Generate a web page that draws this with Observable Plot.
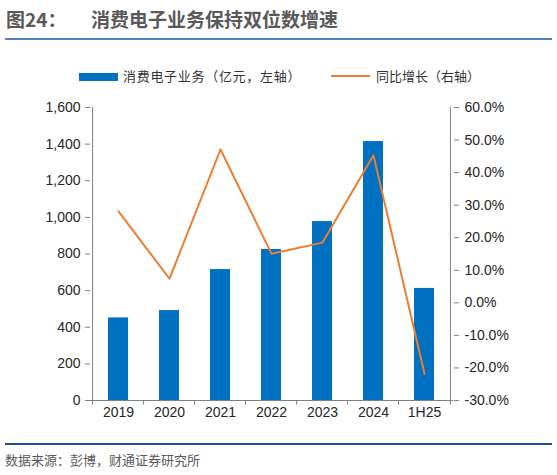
<!DOCTYPE html>
<html lang="zh">
<head>
<meta charset="UTF-8">
<title>图24</title>
<script src="https://cdn.jsdelivr.net/npm/d3@7"></script>
<script src="https://cdn.jsdelivr.net/npm/@observablehq/plot@0.6"></script>
<style>
  body { margin: 0; background: #fff; }
  #chart {
    position: relative;
    width: 557px;
    height: 475px;
    overflow: hidden;
    font-family: "Noto Sans CJK SC", sans-serif;
  }
  #title {
    position: absolute; left: 6px; top: 5px;
    font-size: 19px; font-weight: bold; color: #595959; white-space: nowrap;
  }
  #title .main { position: absolute; left: 85px; top: 0; }
  .rule { position: absolute; left: 5px; width: 547px; height: 2px; }
  #legend { position: absolute; top: 67px; left: 0; font-size: 13px; color: #333; }
  .item { position: absolute; white-space: nowrap; line-height: 18px; }
  .item span { position: absolute; }
  #source { position: absolute; left: 5px; top: 450px; font-size: 13px; color: #595959; white-space: nowrap; }
  #myplot { position: absolute; left: 0; top: 90px; }
</style>
</head>
<body>
<div id="chart">
  <div id="title">图24：<span class="main">消费电子业务保持双位数增速</span></div>
  <div class="rule" style="top:38px; background:#4f81bd;"></div>
  <div id="legend">
    <div class="item" style="left:79px;"><span style="left:0; top:6px; width:39px; height:8px; background:#0070c0;"></span><span style="left:44px; letter-spacing:0.7px;">消费电子业务（亿元，左轴）</span></div>
    <div class="item" style="left:331px;"><span style="left:0; top:8px; width:39px; height:2px; background:#ed7d31;"></span><span style="left:45px;">同比增长（右轴）</span></div>
  </div>
  <div id="myplot"></div>
  <div class="rule" style="top:443px; background:#1f4e99;"></div>
  <div id="source">数据来源：彭博，财通证券研究所</div>
</div>
<script>
// 数据
const years = ["2019", "2020", "2021", "2022", "2023", "2024", "1H25"];
const revenue = [451, 491, 715, 825, 977, 1414, 612];   // 亿元，左轴
const growth = [28.1, 7.4, 47.1, 15.1, 18.5, 45.3, -21.8]; // %，右轴
const leftTicks = [0, 200, 400, 600, 800, 1000, 1200, 1400, 1600];
const rightTicks = [-30, -20, -10, 0, 10, 20, 30, 40, 50, 60];
const rightLabels = ["-30.0%", "-20.0%", "-10.0%", "0.0%", "10.0%", "20.0%", "30.0%", "40.0%", "50.0%", "60.0%"];

// 右轴映射到左轴的刻度
const toLeft = p => (p + 30) / 90 * 1600;
const rightMap = new Map(rightTicks.map((p, i) => [toLeft(p), rightLabels[i]]));

const rows = years.map((y, i) => ({year: y, revenue: revenue[i], growth: toLeft(growth[i])}));

const width = 557, marginLeft = 90, marginRight = 104;
const step = (width - marginLeft - marginRight) / years.length;
const axisColor = "#808080";

const plot = Plot.plot({
  width: width,
  height: 340,
  marginTop: 17,
  marginBottom: 30,
  marginLeft: marginLeft,
  marginRight: marginRight,
  style: {fontFamily: "'Liberation Sans', Arial, sans-serif", fontSize: "14px", color: "#262626", background: "transparent", overflow: "visible"},
  x: {domain: years, paddingInner: 0.6, paddingOuter: 0.3},
  y: {domain: [0, 1600]},
  marks: [
    Plot.barY(rows, {x: "year", y: "revenue", fill: "#0070c0"}),
    Plot.lineY(rows, {x: "year", y: "growth", stroke: "#ed7d31", strokeWidth: 2}),
    // 坐标轴线
    Plot.ruleY([0], {stroke: axisColor}),
    Plot.ruleX([years[0]], {x: d => d, y1: 0, y2: 1600, dx: -step / 2, stroke: axisColor}),
    Plot.ruleX([years[years.length - 1]], {x: d => d, y1: 0, y2: 1600, dx: step / 2, stroke: axisColor}),
    Plot.ruleX(years, {x: d => d, y1: 0, y2: -25, dx: -step / 2, stroke: axisColor}),
    Plot.ruleX([years[years.length - 1]], {x: d => d, y1: 0, y2: -25, dx: step / 2, stroke: axisColor}),
    Plot.axisX({tickSize: 0, tickPadding: 7, label: null}),
    Plot.axisY(leftTicks, {anchor: "left", tickSize: 5, tickPadding: 5, stroke: axisColor, tickFormat: d3.format(","), label: null}),
    Plot.axisY(rightTicks.map(toLeft), {anchor: "right", tickSize: 5, tickPadding: 6, stroke: axisColor, tickFormat: d => rightMap.get(d), label: null})
  ]
});
document.querySelector("#myplot").append(plot);
</script>
</body>
</html>
